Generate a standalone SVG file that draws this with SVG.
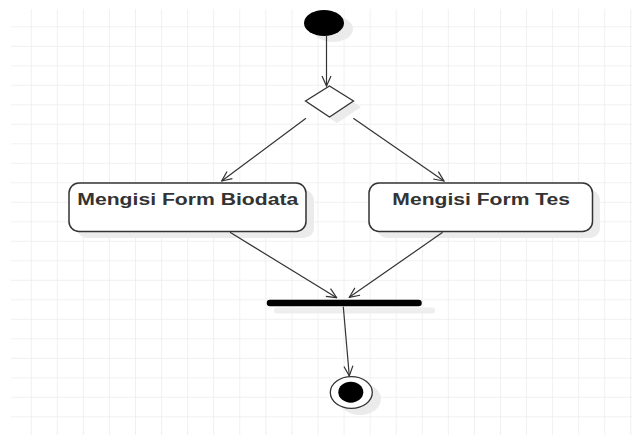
<svg xmlns="http://www.w3.org/2000/svg" width="632" height="435" viewBox="0 0 632 435">
<defs>
<pattern id="grid" x="5.63" y="7.8" width="26.07" height="19.5" patternUnits="userSpaceOnUse">
<path d="M26.07 0V19.5M0 19.5H26.07" fill="none" stroke="#ececec" stroke-width="1.5"/>
</pattern>
<marker id="arr" viewBox="0 0 12 12" refX="11" refY="6" markerWidth="12" markerHeight="12" markerUnits="userSpaceOnUse" orient="auto">
<path d="M1 1.5L11 6L1 10.5" fill="none" stroke="#333" stroke-width="1.2"/>
</marker>
<style>
.ln{fill:none;stroke:#333;stroke-width:1.2;marker-end:url(#arr)}
.sh{fill:#ebebeb;stroke:none}
.box{fill:#fff;stroke:#333;stroke-width:1.5}
.lbl{font-family:"Liberation Sans",Arial,sans-serif;font-weight:bold;font-size:16px;fill:#333;text-anchor:middle}
</style>
</defs>
<rect width="632" height="435" fill="#fff"/>
<rect x="11" y="9" width="621" height="426" fill="url(#grid)"/>
<g id="start">
<ellipse class="sh" cx="333" cy="29" rx="20" ry="13"/>
<ellipse cx="324" cy="23" rx="20" ry="13" fill="#000"/>
</g>
<g id="decision">
<path class="sh" d="M337 92L361 107L337 123L313 107Z"/>
<path d="M329.5 86L353.5 101L329.5 117L305.5 101Z" fill="#fff" stroke="#333" stroke-width="1.3"/>
</g>
<g id="act1">
<rect class="sh" x="77" y="190" width="237" height="48" rx="10"/>
<rect class="box" x="69" y="183" width="237" height="48.5" rx="10"/>
<text class="lbl" x="187.8" y="204.5" textLength="221" lengthAdjust="spacingAndGlyphs">Mengisi Form Biodata</text>
</g>
<g id="act2">
<rect class="sh" x="377" y="190" width="223" height="48" rx="10"/>
<rect class="box" x="369" y="183" width="223.5" height="48.5" rx="10"/>
<text class="lbl" x="481.2" y="204.5" textLength="177.7" lengthAdjust="spacingAndGlyphs">Mengisi Form Tes</text>
</g>
<g id="fork">
<line x1="277" y1="310.5" x2="432" y2="310.5" stroke="#eee" stroke-width="6" stroke-linecap="round"/>
<line x1="270" y1="303" x2="418.5" y2="303" stroke="#000" stroke-width="6.5" stroke-linecap="round"/>
</g>
<g id="end">
<ellipse class="sh" cx="360" cy="399" rx="21" ry="16"/>
<ellipse cx="351.3" cy="392.5" rx="21" ry="15.8" fill="#fff" stroke="#333" stroke-width="1.3"/>
<ellipse cx="350.8" cy="392.2" rx="12.5" ry="10.5" fill="#000"/>
</g>
<g id="connectors">
<line class="ln" x1="326.5" y1="36" x2="326.5" y2="86"/>
<line class="ln" x1="306" y1="118.3" x2="221.7" y2="181"/>
<line class="ln" x1="353.3" y1="118.3" x2="444" y2="181"/>
<line class="ln" x1="230" y1="232.3" x2="336.7" y2="297.7"/>
<line class="ln" x1="442.7" y1="232.3" x2="349.3" y2="297.3"/>
<line class="ln" x1="343.3" y1="306.7" x2="349.3" y2="376"/>
</g>
</svg>
